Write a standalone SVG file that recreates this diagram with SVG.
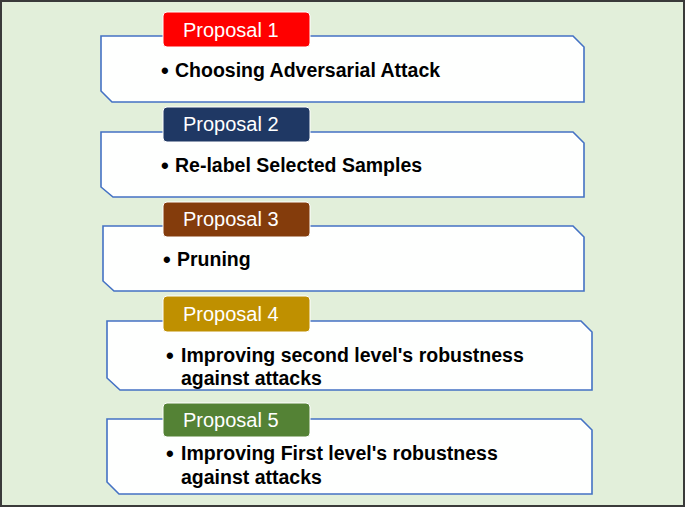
<svg xmlns="http://www.w3.org/2000/svg" width="685" height="507" viewBox="0 0 685 507">
<style>
.box{fill:#FEFFFE;stroke:#4472C4;stroke-width:1.6}
.lab{stroke:#FFFFFF;stroke-width:1}
.lt{font-family:"Liberation Sans",Arial,sans-serif;font-size:20px;fill:#FFFFFF}
.bt{font-family:"Liberation Sans",Arial,sans-serif;font-size:19.5px;font-weight:bold;fill:#000000}
.bu{font-family:"Liberation Sans",Arial,sans-serif;font-size:22px;font-weight:bold;fill:#000000}
</style>
<rect x="1" y="1" width="683" height="505" fill="#E2EFDA" stroke="#3A3A3A" stroke-width="2"/>
<g id="connectors"></g>
<g id="proposal1">
<path class="box" d="M101,36 H573 L584,47 V102 H112 L101,91 Z"/>
<rect class="lab" x="163" y="12" width="147" height="35" rx="4" fill="#FF0000"/>
<text class="lt" x="183" y="37">Proposal 1</text>
<text class="bu" x="161" y="78">•</text>
<text class="bt" x="175" y="77">Choosing Adversarial Attack</text>
</g>
<g id="proposal2">
<path class="box" d="M101,132 H573 L584,143 V197 H113 L101,187 Z"/>
<rect class="lab" x="163" y="107" width="147" height="35" rx="4" fill="#1F3864"/>
<text class="lt" x="183" y="131">Proposal 2</text>
<text class="bu" x="161" y="173">•</text>
<text class="bt" x="175" y="172">Re-label Selected Samples</text>
</g>
<g id="proposal3">
<path class="box" d="M103,226 H573 L584,237 V291 H114 L103,281 Z"/>
<rect class="lab" x="163" y="202" width="147" height="35" rx="4" fill="#843C0C"/>
<text class="lt" x="183" y="226">Proposal 3</text>
<text class="bu" x="163" y="267">•</text>
<text class="bt" x="177" y="266">Pruning</text>
</g>
<g id="proposal4">
<path class="box" d="M107,321 H581 L592,332 V390 H120 L107,378 Z"/>
<rect class="lab" x="163" y="296" width="147" height="36" rx="4" fill="#BF9000"/>
<text class="lt" x="183" y="321">Proposal 4</text>
<text class="bu" x="166" y="363">•</text>
<text class="bt" x="181" y="362">Improving second level's robustness</text>
<text class="bt" x="181" y="385">against attacks</text>
</g>
<g id="proposal5">
<path class="box" d="M107,419 H581 L592,430 V494 H119 L107,482 Z"/>
<rect class="lab" x="163" y="403" width="147" height="34" rx="4" fill="#548235"/>
<text class="lt" x="183" y="427">Proposal 5</text>
<text class="bu" x="166" y="461">•</text>
<text class="bt" x="181" y="460">Improving First level's robustness</text>
<text class="bt" x="181" y="484">against attacks</text>
</g>
</svg>
